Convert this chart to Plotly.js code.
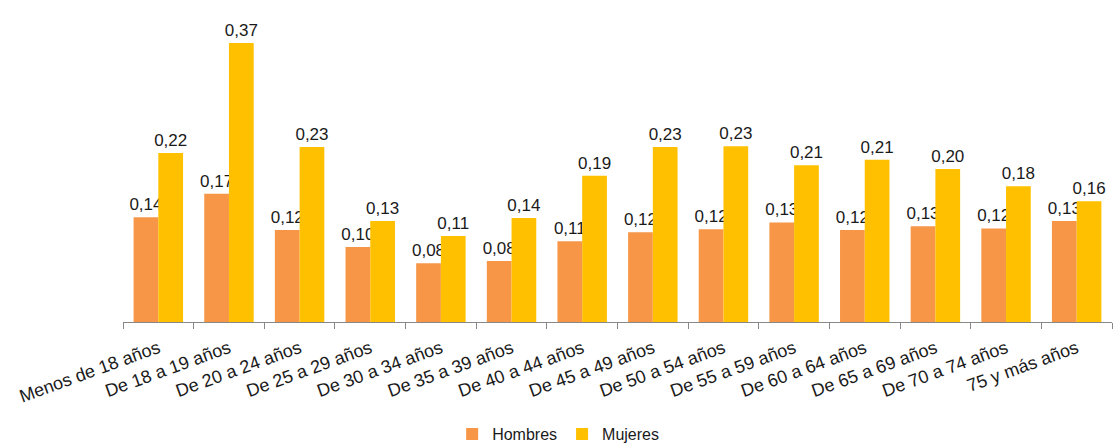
<!DOCTYPE html>
<html>
<head>
<meta charset="utf-8">
<script src="https://cdn.plot.ly/plotly-3.0.1.min.js"></script>
<style>html,body{margin:0;padding:0;background:#fff;}#chart{width:1113px;height:444px;}</style>
</head>
<body>
<div id="chart"></div>
<script>
const categories = ["Menos de 18 años","De 18 a 19 años","De 20 a 24 años","De 25 a 29 años","De 30 a 34 años","De 35 a 39 años","De 40 a 44 años","De 45 a 49 años","De 50 a 54 años","De 55 a 59 años","De 60 a 64 años","De 65 a 69 años","De 70 a 74 años","75 y más años"];
const hombres = [0.139,0.170,0.122,0.0995,0.078,0.081,0.107,0.119,0.123,0.132,0.122,0.127,0.124,0.134];
const mujeres = [0.224,0.370,0.232,0.134,0.114,0.138,0.194,0.232,0.233,0.208,0.215,0.203,0.180,0.160];

const labelFont = {family: "Liberation Sans, Arial, sans-serif", size: 17, color: "#1a1a1a"};
const traces = [
  {type: "bar", name: "Hombres", x: categories, y: hombres, marker: {color: "#F79646"},
   texttemplate: "%{y:.2f}", textposition: "outside", textfont: labelFont,
   constraintext: "none", cliponaxis: false},
  {type: "bar", name: "Mujeres", x: categories, y: mujeres, marker: {color: "#FFC000"},
   texttemplate: "%{y:.2f}", textposition: "outside", textfont: labelFont,
   constraintext: "none", cliponaxis: false}
];
const layout = {
  width: 1113, height: 444,
  margin: {l: 123, r: 1, t: 10, b: 122, autoexpand: false},
  separators: ",.",
  barmode: "group", bargap: 0.3, bargroupgap: 0,
  paper_bgcolor: "#fff", plot_bgcolor: "#fff",
  font: {family: "Liberation Sans, Arial, sans-serif", size: 17, color: "#1a1a1a"},
  xaxis: {type: "category", automargin: false, showline: true, linecolor: "#888", linewidth: 1,
          ticks: "outside", tickson: "boundaries", ticklen: 6, tickcolor: "#888",
          ticklabelstandoff: 8,
          tickangle: -20, tickfont: {size: 18, color: "#1a1a1a"}, showgrid: false},
  yaxis: {range: [0, 0.4137], visible: false, showgrid: false, zeroline: false, automargin: false},
  showlegend: true,
  legend: {orientation: "h", x: 0.44, xanchor: "center", y: -0.305, yanchor: "top",
           font: {size: 16, color: "#1a1a1a"}, itemwidth: 30, traceorder: "normal"}
};
Plotly.newPlot("chart", traces, layout, {displayModeBar: false, staticPlot: true});
</script>
</body>
</html>
